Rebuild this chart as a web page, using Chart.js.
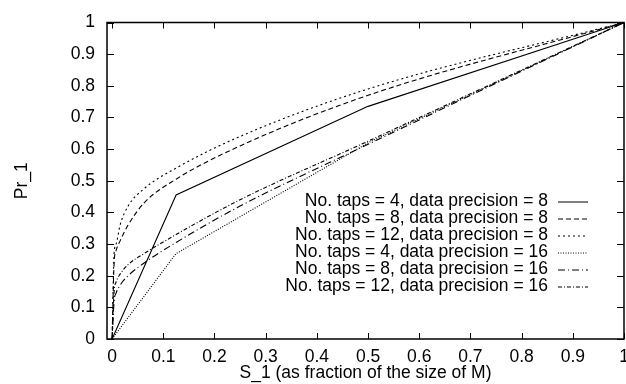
<!DOCTYPE html>
<html>
<head>
<meta charset="utf-8">
<script src="https://cdn.jsdelivr.net/npm/chart.js@4/dist/chart.umd.min.js"></script>
<style>
  html, body { margin: 0; padding: 0; background: #fff; }
  #wrap { width: 626px; height: 384px; }
</style>
</head>
<body>
<div id="wrap"><canvas id="chart"></canvas></div>
<script>
// sample points along S_1
const xFew = [0, 0.125, 0.5, 1];
const xMany = [0, 0.0039, 0.0078, 0.0156, 0.03125, 0.0625, 0.125, 0.25, 0.5, 1];

// Pr_1 values
const taps4prec8 = [0, 0.455, 0.735, 1];
const taps8prec8 = [0, 0.24, 0.28, 0.31, 0.36, 0.43, 0.505, 0.61, 0.77, 1];
const taps12prec8 = [0, 0.27, 0.30, 0.36, 0.42, 0.475, 0.54, 0.64, 0.79, 1];
const taps4prec16 = [0, 0.27, 0.62, 1];
const taps8prec16 = [0, 0.12, 0.145, 0.17, 0.20, 0.24, 0.305, 0.42, 0.615, 1];
const taps12prec16 = [0, 0.15, 0.18, 0.205, 0.235, 0.27, 0.33, 0.44, 0.625, 1];

const seriesLabels = [
  "No. taps = 4, data precision = 8",
  "No. taps = 8, data precision = 8",
  "No. taps = 12, data precision = 8",
  "No. taps = 4, data precision = 16",
  "No. taps = 8, data precision = 16",
  "No. taps = 12, data precision = 16"
];

const xTicks = [0, 0.1, 0.2, 0.3, 0.4, 0.5, 0.6, 0.7, 0.8, 0.9, 1];
const yTicks = [0, 0.1, 0.2, 0.3, 0.4, 0.5, 0.6, 0.7, 0.8, 0.9, 1];

const FONT = "'Liberation Sans', Arial, Helvetica, sans-serif";
const BLACK = "#000";

function points(xs, ys) {
  return xs.map((x, i) => ({ x: x, y: ys[i] }));
}

function line(label, xs, ys, dash, smooth) {
  return {
    label: label,
    data: points(xs, ys),
    borderColor: BLACK,
    borderWidth: 1.1,
    borderDash: dash,
    pointRadius: 0,
    showLine: true,
    cubicInterpolationMode: smooth ? "monotone" : "default",
    tension: 0,
    fill: false
  };
}

// gnuplot style: closed frame, inward ticks on all four sides, legend inside
const gnuplotFrame = {
  id: "gnuplotFrame",
  afterDatasetsDraw(chart) {
    const ctx = chart.ctx;
    const a = chart.chartArea;
    const x = chart.scales.x;
    const y = chart.scales.y;

    ctx.save();
    ctx.strokeStyle = BLACK;
    ctx.lineWidth = 1;
    ctx.beginPath();
    for (const t of xTicks) {
      const px = Math.round(x.getPixelForValue(t)) + 0.5;
      ctx.moveTo(px, a.bottom); ctx.lineTo(px, a.bottom - 6);
      ctx.moveTo(px, a.top); ctx.lineTo(px, a.top + 6);
    }
    for (const t of yTicks) {
      const py = Math.round(y.getPixelForValue(t)) + 0.5;
      ctx.moveTo(a.left, py); ctx.lineTo(a.left + 7, py);
      ctx.moveTo(a.right, py); ctx.lineTo(a.right - 7, py);
    }
    ctx.stroke();

    ctx.lineWidth = 1.5;
    ctx.strokeRect(a.left, a.top, a.right - a.left, a.bottom - a.top);

    // legend
    ctx.font = "17.5px " + FONT;
    ctx.fillStyle = BLACK;
    ctx.textAlign = "right";
    ctx.textBaseline = "middle";
    chart.data.datasets.forEach((ds, i) => {
      const rowY = a.top + 179 + i * 17;
      ctx.fillText(ds.label, a.right - 76, rowY);
      ctx.lineWidth = 1;
      ctx.setLineDash(ds.borderDash || []);
      ctx.beginPath();
      ctx.moveTo(a.right - 66, rowY + 0.5);
      ctx.lineTo(a.right - 36, rowY + 0.5);
      ctx.stroke();
      ctx.setLineDash([]);
    });
    ctx.restore();
  }
};

new Chart("chart", {
  type: "scatter",
  data: {
    datasets: [
      line(seriesLabels[0], xFew, taps4prec8, [], false),
      line(seriesLabels[1], xMany, taps8prec8, [5, 3], true),
      line(seriesLabels[2], xMany, taps12prec8, [2, 3], true),
      line(seriesLabels[3], xFew, taps4prec16, [1, 1.5], false),
      line(seriesLabels[4], xMany, taps8prec16, [7, 3, 1, 3], true),
      line(seriesLabels[5], xMany, taps12prec16, [4, 2, 1, 2], true)
    ]
  },
  options: {
    responsive: true,
    maintainAspectRatio: false,
    animation: false,
    events: [],
    layout: { padding: { top: 16, right: 2, left: 0, bottom: 0 } },
    plugins: {
      legend: { display: false },
      tooltip: { enabled: false }
    },
    scales: {
      x: {
        type: "linear",
        min: -0.01,
        max: 1,
        afterBuildTicks: scale => { scale.ticks = xTicks.map(v => ({ value: v })); },
        afterFit: scale => { scale.height = 45; scale.paddingLeft = 0; scale.paddingRight = 0; },
        grid: { display: false, drawTicks: false },
        border: { display: false },
        ticks: {
          color: BLACK,
          padding: 8,
          maxRotation: 0,
          autoSkip: false,
          font: { family: FONT, size: 17.5 },
          callback: v => String(v)
        },
        title: {
          display: true,
          text: "S_1 (as fraction of the size of M)",
          color: BLACK,
          padding: { top: 3, bottom: 0 },
          font: { family: FONT, size: 17.5 }
        }
      },
      y: {
        type: "linear",
        min: 0,
        max: 1,
        afterBuildTicks: scale => { scale.ticks = yTicks.map(v => ({ value: v })); },
        afterFit: scale => { scale.width = 107; },
        grid: { display: false, drawTicks: false },
        border: { display: false },
        ticks: {
          color: BLACK,
          padding: 12,
          autoSkip: false,
          font: { family: FONT, size: 17.5 },
          callback: v => String(v)
        },
        title: {
          display: true,
          text: "Pr_1",
          color: BLACK,
          padding: { top: 12, bottom: 0 },
          font: { family: FONT, size: 17.5 }
        }
      }
    }
  },
  plugins: [gnuplotFrame]
});
</script>
</body>
</html>
